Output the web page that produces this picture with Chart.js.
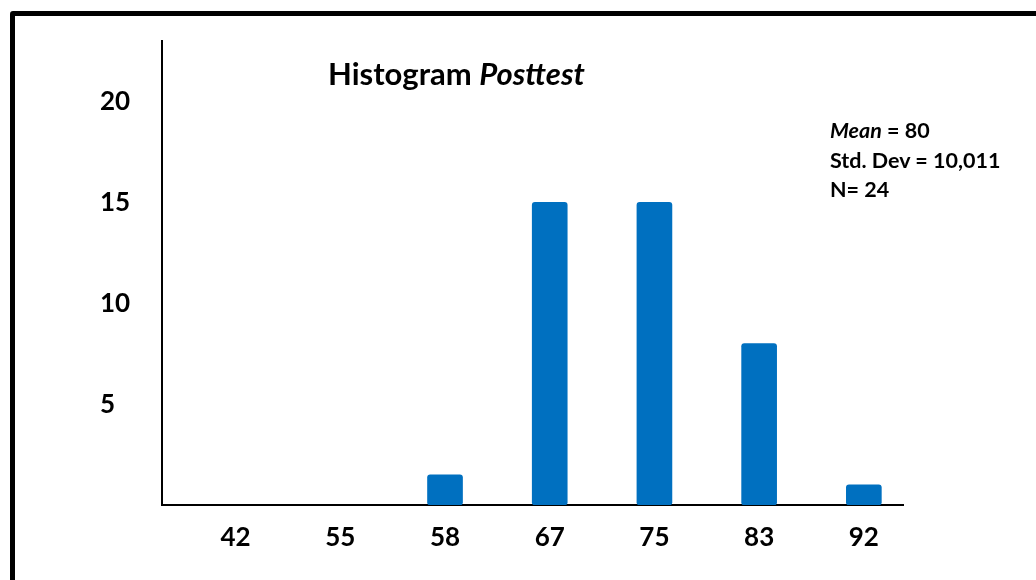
<!DOCTYPE html>
<html>
<head>
<meta charset="utf-8">
<script src="https://cdn.jsdelivr.net/npm/chart.js@4.4.0/dist/chart.umd.min.js"></script>
<style>
    body { margin: 0; background: #fff; }
    #wrap { position: relative; width: 1036px; height: 580px; overflow: hidden; font-family: Lato, 'Open Sans', sans-serif; color: #000; }
    #histChart { position: absolute; left: 0; top: 0; }
    /* thick black frame, only top and left edges visible in the photo */
    #frame { position: absolute; left: 10px; top: 11px; width: 1100px; height: 700px; border: 5px solid #000; border-radius: 3px; pointer-events: none; }
    #title { position: absolute; left: 328px; top: 54px; font-size: 31px; font-weight: 700; white-space: nowrap; }
    #stats { position: absolute; left: 830px; top: 116px; font-size: 21.5px; font-weight: 700; line-height: 29.5px; white-space: nowrap; }
</style>
</head>
<body>
<div id="wrap">
    <canvas id="histChart" width="1036" height="580"></canvas>
    <div id="frame"></div>
    <div id="title">Histogram <i>Posttest</i></div>
    <div id="stats">
        <div><i>Mean</i> = 80</div>
        <div>Std. Dev = 10,011</div>
        <div>N= 24</div>
    </div>
</div>
<script>
// values
const categories = ['42', '55', '58', '67', '75', '83', '92'];
const frequencies = [0, 0, 1.5, 15, 15, 8, 1];
const yTicks = [5, 10, 15, 20];

// empty bins are left out so no sliver is drawn
const points = categories.map((c, i) => ({ x: i, y: frequencies[i] || null }));
const labelFont = { family: "Lato, 'Open Sans', sans-serif", size: 26, weight: 'bold' };

new Chart(document.getElementById('histChart'), {
    type: 'bar',
    data: {
        datasets: [{
            data: points,
            backgroundColor: '#0070C0',
            borderRadius: 3,
            borderSkipped: false,
            barThickness: 35
        }]
    },
    options: {
        responsive: false,
        animation: false,
        layout: { padding: { left: 100, right: 133, top: 41, bottom: 0 } },
        plugins: { legend: { display: false }, tooltip: { enabled: false } },
        scales: {
            x: {
                type: 'linear',
                offset: false,
                min: -0.703,
                max: 6.374,
                grid: { display: false, drawTicks: false, offset: false },
                border: { display: true, color: '#000', width: 2 },
                afterBuildTicks: (scale) => {
                    scale.ticks = categories.map((c, i) => ({ value: i }));
                },
                afterFit: (scale) => { scale.height = 75; },
                ticks: {
                    autoSkip: false,
                    maxRotation: 0,
                    padding: 17,
                    color: '#000',
                    font: labelFont,
                    callback: (v) => categories[v]
                }
            },
            y: {
                min: 0,
                max: 23,
                grid: { display: false, drawTicks: false },
                border: { display: true, color: '#000', width: 2 },
                afterBuildTicks: (scale) => {
                    scale.ticks = yTicks.map(v => ({ value: v }));
                },
                afterFit: (scale) => { scale.width = 62; },
                ticks: {
                    crossAlign: 'far',
                    color: '#000',
                    font: labelFont
                }
            }
        }
    }
});
</script>
</body>
</html>
